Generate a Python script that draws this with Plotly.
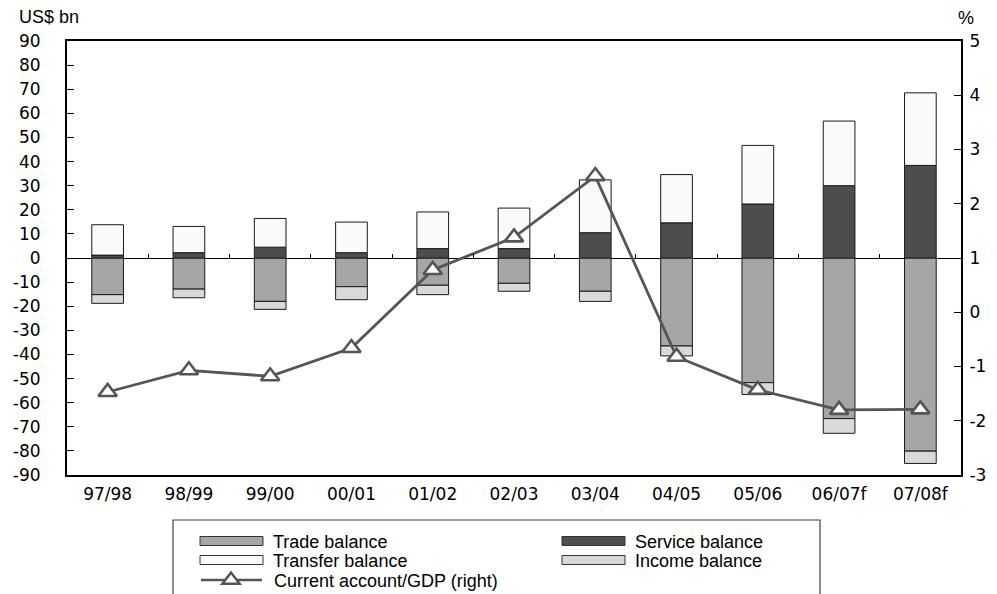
import plotly.graph_objects as go

# Fiscal years
years = ["97/98", "98/99", "99/00", "00/01", "01/02", "02/03", "03/04",
         "04/05", "05/06", "06/07f", "07/08f"]

# Balance-of-payments components, US$ bn
trade_balance = [-15.2, -12.9, -18.0, -11.9, -11.3, -10.5, -13.8, -36.5, -51.7, -66.6, -80.1]
service_balance = [1.2, 2.2, 4.5, 2.2, 3.9, 3.9, 10.5, 14.6, 22.4, 30.0, 38.4]
transfer_balance = [12.6, 10.9, 11.9, 12.7, 15.2, 16.8, 21.9, 20.0, 24.3, 26.8, 30.1]
income_balance = [-3.6, -3.6, -3.3, -5.4, -3.9, -3.3, -4.2, -4.1, -4.9, -6.1, -5.1]

# Current account as % of GDP (right axis)
ca_gdp = [-1.47, -1.07, -1.18, -0.66, 0.78, 1.38, 2.51, -0.82, -1.43, -1.80, -1.79]

left_ticks = list(range(-90, 91, 10))
right_ticks = list(range(-3, 6))
# plain hyphen-minus labels
left_labels = [str(v) for v in left_ticks]
right_labels = [str(v) for v in right_ticks]

FONT = "Liberation Sans, Arial, sans-serif"
TICK_FONT = dict(family="DejaVu Sans, sans-serif", size=17, color="black")
W, H = 997, 594
ML, MR, MT, MB = 67, 36, 41, 119
PW, PH = W - ML - MR, H - MT - MB

C_TRADE = "#a6a6a6"
C_SERVICE = "#4d4d4d"
C_TRANSFER = "#fafafa"
C_INCOME = "#d9d9d9"
C_LINE = "#555555"
EDGE = "#1a1a1a"


def px_x(px):
    return (px - ML) / PW


def px_y(py):
    return (H - MB - py) / PH


fig = go.Figure()

bar_series = [
    ("Trade balance", trade_balance, C_TRADE),
    ("Service balance", service_balance, C_SERVICE),
    ("Transfer balance", transfer_balance, C_TRANSFER),
    ("Income balance", income_balance, C_INCOME),
]
for name, vals, col in bar_series:
    fig.add_trace(go.Bar(
        x=years, y=vals, name=name,
        marker=dict(color=col, line=dict(color=EDGE, width=1)),
        showlegend=False,
    ))

fig.add_trace(go.Scatter(
    x=years, y=ca_gdp, yaxis="y2", name="Current account/GDP (right)",
    mode="lines+markers",
    line=dict(color=C_LINE, width=2.8),
    marker=dict(symbol="triangle-up", size=16, color="white",
                line=dict(color=C_LINE, width=2.6)),
    showlegend=False,
))

# helper trace that carries the boundary ticks on the zero line
fig.add_trace(go.Scatter(x=[], y=[], xaxis="x2", yaxis="y", showlegend=False,
                         hoverinfo="skip"))

fig.update_layout(
    width=W, height=H,
    margin=dict(l=ML, r=MR, t=MT, b=MB, autoexpand=False),
    paper_bgcolor="white", plot_bgcolor="white",
    barmode="relative", bargap=0.61,
    font=dict(family=FONT, size=18, color="black"),
    showlegend=False,
    xaxis=dict(
        type="category", range=[-0.5, 10.5], automargin=False,
        showline=True, linecolor="black", linewidth=2, mirror=True,
        ticks="", showgrid=False, zeroline=False,
        tickfont=TICK_FONT, ticklabelstandoff=3,
    ),
    xaxis2=dict(
        overlaying="x", anchor="free", position=0.5, side="bottom",
        range=[-0.5, 10.5], tickmode="array", automargin=False,
        tickvals=[i + 0.5 for i in range(10)],
        ticks="inside", ticklen=4, tickwidth=1, tickcolor="black",
        showticklabels=False, showline=False, showgrid=False, zeroline=False,
    ),
    yaxis=dict(
        range=[-90, 90], tickmode="array", tickvals=left_ticks, ticktext=left_labels,
        automargin=False,
        ticks="inside", ticklen=7, tickwidth=1, tickcolor="black",
        showline=True, linecolor="black", linewidth=2, mirror=True,
        showgrid=False, zeroline=True, zerolinecolor="black", zerolinewidth=1,
        tickfont=TICK_FONT, ticklabelstandoff=21,
    ),
    yaxis2=dict(
        overlaying="y", side="right", anchor="x", automargin=False,
        range=[-3, 5], tickmode="array", tickvals=right_ticks, ticktext=right_labels,
        ticks="inside", ticklen=7, tickwidth=1, tickcolor="black",
        showline=True, linecolor="black", linewidth=2,
        showgrid=False, zeroline=False,
        tickfont=TICK_FONT, ticklabelstandoff=3,
    ),
)

annotations = [
    dict(text="US$ bn", x=px_x(17), y=px_y(17), xanchor="left", yanchor="middle"),
    dict(text="%", x=px_x(956), y=px_y(18), xanchor="left", yanchor="middle"),
]

# legend panel
shapes = [dict(type="rect", xref="paper", yref="paper",
               x0=px_x(173), x1=px_x(820), y0=px_y(520), y1=px_y(640),
               line=dict(color="#404040", width=1.2), fillcolor="white", layer="below")]

legend_items = [
    ("Trade balance", C_TRADE, 200, 541),
    ("Transfer balance", C_TRANSFER, 200, 560),
    ("Service balance", C_SERVICE, 562, 541),
    ("Income balance", C_INCOME, 562, 560),
]
for label, col, sx, sy in legend_items:
    shapes.append(dict(type="rect", xref="paper", yref="paper",
                       x0=px_x(sx), x1=px_x(sx + 63), y0=px_y(sy - 4.5), y1=px_y(sy + 4.5),
                       line=dict(color="#333333", width=1), fillcolor=col))
    annotations.append(dict(text=label, x=px_x(sx + 71), y=px_y(sy + 1),
                            xanchor="left", yanchor="middle"))

# line-with-marker key
ly = 580
shapes.append(dict(type="line", xref="paper", yref="paper",
                   x0=px_x(201), x1=px_x(262), y0=px_y(ly), y1=px_y(ly),
                   line=dict(color=C_LINE, width=2.5)))
tx, r = 231, 7.5
tri = (f"M {px_x(tx - r * 1.15)} {px_y(ly + r / 2)} "
       f"L {px_x(tx + r * 1.15)} {px_y(ly + r / 2)} "
       f"L {px_x(tx)} {px_y(ly - r)} Z")
shapes.append(dict(type="path", xref="paper", yref="paper", path=tri,
                   fillcolor="white", line=dict(color=C_LINE, width=2.5)))
annotations.append(dict(text="Current account/GDP (right)", x=px_x(272), y=px_y(ly + 1),
                        xanchor="left", yanchor="middle"))

for a in annotations:
    a.update(xref="paper", yref="paper", showarrow=False,
             font=dict(family=FONT, size=18, color="black"))

fig.update_layout(annotations=annotations, shapes=shapes)

fig.write_html("out.html")
